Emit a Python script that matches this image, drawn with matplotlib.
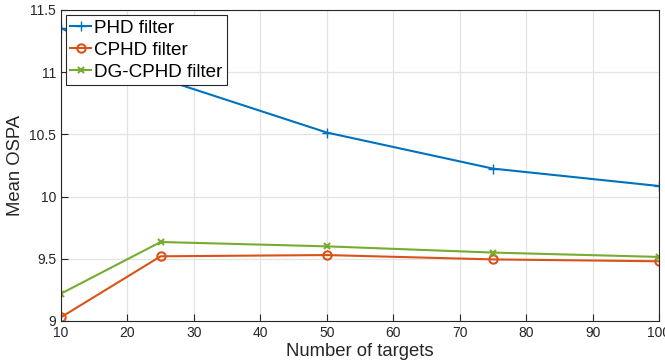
import matplotlib
matplotlib.use("Agg")
import matplotlib.pyplot as plt

# Data
targets = [10, 25, 50, 75, 100]
phd = [11.355, 10.95, 10.515, 10.225, 10.085]
cphd = [9.03, 9.52, 9.53, 9.495, 9.48]
dgcphd = [9.22, 9.635, 9.60, 9.55, 9.515]
xticks = [10, 20, 30, 40, 50, 60, 70, 80, 90, 100]
yticks = [9, 9.5, 10, 10.5, 11, 11.5]

plt.rcParams['font.family'] = ['Liberation Sans', 'DejaVu Sans']

fig = plt.figure(figsize=(6.65, 3.62), dpi=100)
ax = fig.add_axes([0.0917, 0.1133, 0.8993, 0.8591])

ax.plot(targets, phd, color='#0072BD', marker='+', markersize=7, lw=1.5, label='PHD filter')
ax.plot(targets, cphd, color='#D95319', marker='o', markersize=6, markerfacecolor='none',
        markeredgewidth=1.5, lw=1.5, label='CPHD filter')
ax.plot(targets, dgcphd, color='#77AC30', marker='x', markersize=5, markeredgewidth=1.5,
        lw=1.5, label='DG-CPHD filter')

ax.set_xlim(10, 100)
ax.set_ylim(9, 11.5)
ax.set_xticks(xticks)
ax.set_yticks(yticks)
ax.set_yticklabels(['9', '9.5', '10', '10.5', '11', '11.5'])
ax.grid(True, color='#e3e3e3', lw=0.9)
ax.set_axisbelow(True)
ax.tick_params(direction='in', length=5, width=0.8, colors='#262626', labelsize=10)
for s in ax.spines.values():
    s.set_color('#262626')
    s.set_linewidth(0.8)

ax.set_xlabel('Number of targets', fontsize=13.3, color='#262626', labelpad=2)
ax.set_ylabel('Mean OSPA', fontsize=13.3, color='#262626', labelpad=4)

leg = ax.legend(loc='upper left', fontsize=13.6, handlelength=1.1, handletextpad=0.15,
                borderpad=0.25, labelspacing=0.25, borderaxespad=0.25, fancybox=False,
                framealpha=1, edgecolor='#262626')
leg.get_frame().set_linewidth(0.8)

fig.savefig('out.png', dpi=100)
